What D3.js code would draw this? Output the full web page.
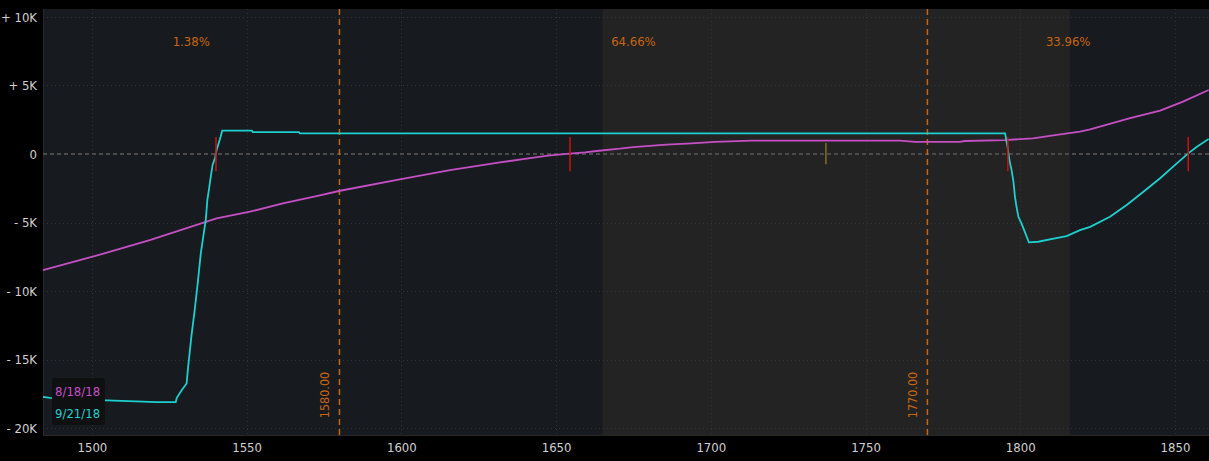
<!DOCTYPE html>
<html><head><meta charset="utf-8">
<script src="https://cdn.jsdelivr.net/npm/d3@7"></script>
<style>html,body{margin:0;padding:0;background:#000;overflow:hidden}</style>
</head><body><svg id="c" width="1209" height="461"></svg>
<script>
// ---- data ----
const xTicks = [1500, 1550, 1600, 1650, 1700, 1750, 1800, 1850];
const yTicks = [10000, 5000, 0, -5000, -10000, -15000, -20000];
const yTickLabels = ["+ 10K", "+ 5K", "0", "- 5K", "- 10K", "- 15K", "- 20K"];
const seriesNames = ["8/18/18", "9/21/18"];
// 8/18/18 (magenta)
const magentaX = [1484.2,1502.6,1518.7,1540.3,1551.1,1561.7,1572.6,1580.2,1599.5,1615.7,1631.9,1639.9,1647.4,1651.6,1659.3,1663.1,1670.6,1674.9,1685.7,1693.8,1701.4,1713.2,1761.1,1766.0,1780.5,1782.1,1795.1,1804.1,1811.8,1819.3,1822.6,1835.5,1845.2,1852.6,1860.9];
const magentaY = [-8470,-7340,-6280,-4690,-4210,-3600,-3070,-2680,-1850,-1170,-610,-360,-120,-20,120,220,390,510,680,780,880,970,970,880,880,950,1020,1140,1390,1630,1800,2610,3160,3820,4670];
// 9/21/18 (cyan)
const cyanX = [1484.2,1486.4,1502.6,1521.0,1527.1,1527.4,1529.0,1530.6,1531.1,1532.2,1533.1,1534.2,1535.2,1536.3,1536.8,1537.3,1537.8,1538.5,1539.0,1539.8,1540.3,1541.0,1541.6,1542.1,1551.7,1552.0,1566.9,1567.2,1795.1,1795.8,1796.5,1797.2,1797.8,1798.3,1798.8,1799.4,1800.4,1802.8,1805.8,1811.2,1815.0,1819.3,1822.6,1829.0,1834.4,1839.8,1845.2,1850.6,1854.3,1857.1,1860.9];
const cyanY = [-17720,-17790,-17950,-18100,-18100,-17810,-17230,-16740,-15530,-13210,-11610,-9420,-7230,-5550,-4820,-3360,-2630,-1530,-800,-290,290,800,1260,1700,1700,1600,1600,1500,1510,660,-440,-1170,-2020,-3120,-3850,-4580,-5060,-6450,-6400,-6150,-5990,-5550,-5310,-4580,-3720,-2750,-1770,-680,50,530,1100];
const breakEvens = [1540.1, 1654.5, 1796.0, 1854.3];
const currentPrice = [1737.2];
const strikeLines = [1580, 1770];
const strikeLabels = ["1580.00", "1770.00"];
const probLabels = ["1.38%", "64.66%", "33.96%"];
const shadeRange = [1665, 1816];
const xDomain = [1484.2, 1861.0];
const yDomain = [-20500, 10580];

// ---- layout ----
const L = 43, R = 1209, T = 9, B = 435;
const svg = d3.select("#c");
const x = d3.scaleLinear().domain(xDomain).range([L, R]);
const y = d3.scaleLinear().domain(yDomain).range([B, T]);
const font = "'DejaVu Sans Condensed','DejaVu Sans',sans-serif";

svg.append("rect").attr("x",0).attr("y",0).attr("width",1209).attr("height",461).attr("fill","#000");
svg.append("rect").attr("x",L).attr("y",T).attr("width",R-L).attr("height",B-T).attr("fill","#171b1f");
svg.append("rect").attr("x",x(shadeRange[0])).attr("y",T).attr("width",x(shadeRange[1])-x(shadeRange[0])).attr("height",B-T).attr("fill","#232323");
svg.append("line").attr("x1",L).attr("x2",R).attr("y1",B+0.5).attr("y2",B+0.5).attr("stroke","#2a2622");
svg.append("line").attr("x1",L+0.5).attr("x2",L+0.5).attr("y1",T).attr("y2",B).attr("stroke","#26282a");

// grid
const g = svg.append("g");
g.selectAll("line.vx").data(xTicks).join("line")
  .attr("x1",d=>Math.round(x(d))+0.5).attr("x2",d=>Math.round(x(d))+0.5).attr("y1",T).attr("y2",B)
  .attr("stroke","#30343a").attr("stroke-dasharray","1,3");
g.selectAll("line.hy").data(yTicks.filter(d=>d!==0)).join("line")
  .attr("x1",L).attr("x2",R).attr("y1",d=>Math.round(y(d))+0.5).attr("y2",d=>Math.round(y(d))+0.5)
  .attr("stroke","#30343a").attr("stroke-dasharray","1,3");
g.append("line").attr("x1",L).attr("x2",R).attr("y1",y(0)).attr("y2",y(0))
  .attr("stroke","#4a4a4a").attr("stroke-width",2).attr("stroke-dasharray","4,3");

// axes
const xAxis = d3.axisBottom(x).tickValues(xTicks).tickSize(0).tickPadding(8).tickFormat(d3.format("d"));
const xa = svg.append("g").attr("transform",`translate(0,${B})`).call(xAxis);
xa.select(".domain").remove();
xa.selectAll("text").attr("fill","#d0d0d0").style("font-family",font).style("font-size","13px");
const yAxis = d3.axisLeft(y).tickValues(yTicks).tickSize(0).tickPadding(6).tickFormat((d,i)=>yTickLabels[i]);
const ya = svg.append("g").attr("transform",`translate(${L},0)`).call(yAxis);
ya.select(".domain").remove();
ya.selectAll("text").attr("fill","#d0d0d0").style("font-family",font).style("font-size","13px");

// strike lines
const orange = "#c8650e";
svg.selectAll("line.strike").data(strikeLines).join("line")
  .attr("x1",d=>x(d)).attr("x2",d=>x(d)).attr("y1",T).attr("y2",B)
  .attr("stroke",orange).attr("stroke-width",1.5).attr("stroke-dasharray","6,4");
svg.selectAll("text.strike").data(strikeLines).join("text")
  .attr("transform",d=>`translate(${x(d)-10},395) rotate(-90)`)
  .attr("text-anchor","middle").attr("fill",orange)
  .style("font-family",font).style("font-size","12.5px").text((d,i)=>strikeLabels[i]);
const edges = [xDomain[0], ...strikeLines, xDomain[1]];
svg.selectAll("text.prob").data(probLabels).join("text")
  .attr("x",(d,i)=>x((edges[i]+edges[i+1])/2)).attr("y",46)
  .attr("text-anchor","middle").attr("fill",orange)
  .style("font-family",font).style("font-size","13px").text(d=>d);

// lines
const line = d3.line().x(d=>x(d[0])).y(d=>y(d[1]));
svg.append("path").datum(magentaX.map((v,i)=>[v,magentaY[i]]))
  .attr("d",line).attr("fill","none").attr("stroke","#c64fc6").attr("stroke-width",1.8);
svg.append("path").datum(cyanX.map((v,i)=>[v,cyanY[i]]))
  .attr("d",line).attr("fill","none").attr("stroke","#1ecfcf").attr("stroke-width",1.8);

// markers
svg.selectAll("line.be").data(breakEvens).join("line")
  .attr("x1",d=>x(d)).attr("x2",d=>x(d)).attr("y1",y(1250)).attr("y2",y(-1250))
  .attr("stroke","#d01010").attr("stroke-width",1.5);
svg.selectAll("line.cp").data(currentPrice).join("line")
  .attr("x1",d=>x(d)).attr("x2",d=>x(d)).attr("y1",y(800)).attr("y2",y(-750))
  .attr("stroke","#8a6a22").attr("stroke-width",1.5);

// legend
svg.append("rect").attr("x",52).attr("y",378).attr("width",53).attr("height",47).attr("rx",3).attr("fill","#0f1011");
const legColors = ["#c64fc6","#1ecfcf"];
svg.selectAll("text.leg").data(seriesNames).join("text")
  .attr("x",55).attr("y",(d,i)=>396+i*22).attr("fill",(d,i)=>legColors[i])
  .style("font-family",font).style("font-size","13px").text(d=>d);
</script></body></html>
